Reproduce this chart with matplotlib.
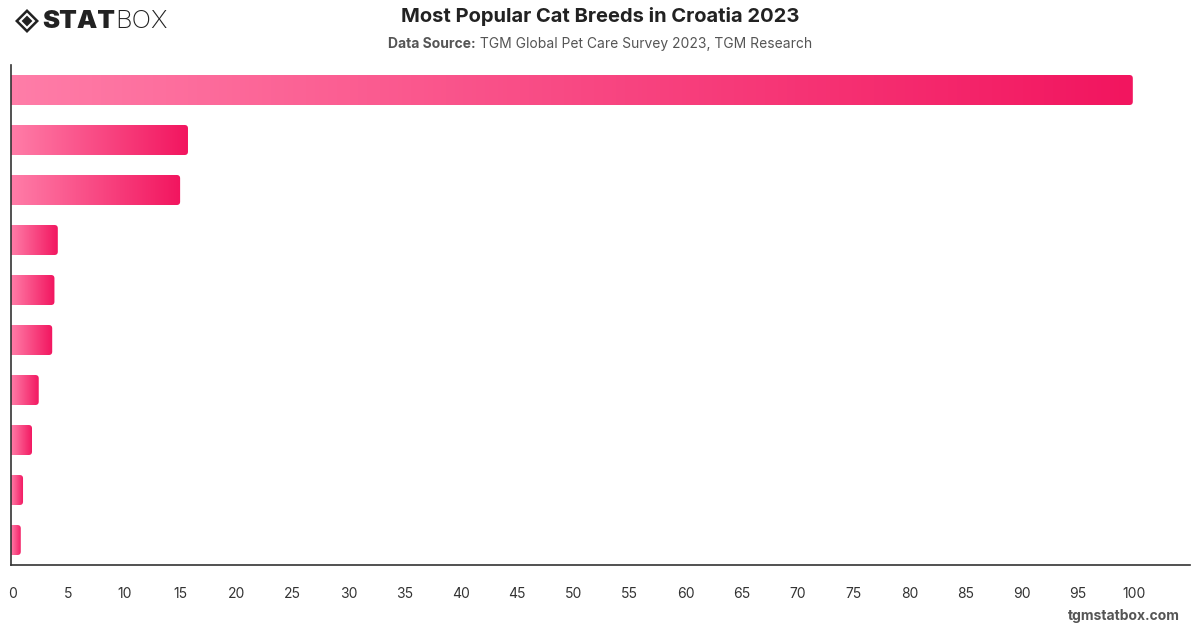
import numpy as np
import matplotlib
matplotlib.use("Agg")
from matplotlib import pyplot as plt
from matplotlib.patches import FancyBboxPatch, Polygon
from matplotlib.colors import LinearSegmentedColormap
from matplotlib.transforms import ScaledTranslation

plt.rcParams['font.family'] = ['Inter', 'DejaVu Sans']

# data (breed names are not shown on the chart)
breeds = ["Breed 1", "Breed 2", "Breed 3", "Breed 4", "Breed 5",
          "Breed 6", "Breed 7", "Breed 8", "Breed 9", "Breed 10"]
values = [100, 15.8, 15.1, 4.2, 3.9, 3.7, 2.5, 1.9, 1.1, 0.9]
xticks = list(range(0, 101, 5))

title = "Most Popular Cat Breeds in Croatia 2023"
source_bold = "Data Source:"
source_text = " TGM Global Pet Care Survey 2023, TGM Research"

fig = plt.figure(figsize=(12, 6.28), dpi=100)
ax = fig.add_axes([0.0089, 0.1003, 0.9828, 0.7962])

cmap = LinearSegmentedColormap.from_list("pinks", ["#FF7DA8", "#F2155F"])
grad = np.linspace(0, 1, 256).reshape(1, -1)

xmax = 105.1
h = 0.6
# px per data unit: x ~ 11.22, y ~ 50
aspect = 11.22 / 50
for i, v in enumerate(values):
    patch = FancyBboxPatch((-1, i - h / 2), v + 1, h,
                           boxstyle="round,pad=0,rounding_size=0.3",
                           mutation_aspect=aspect,
                           facecolor="none", edgecolor="none")
    ax.add_patch(patch)
    im = ax.imshow(grad, cmap=cmap, aspect="auto",
                   extent=[0, v, i + h / 2, i - h / 2],
                   interpolation="bicubic", zorder=2)
    im.set_clip_path(patch)

ax.set_xlim(0, xmax)
ax.set_ylim(len(values) - 0.5, -0.5)

ax.set_yticks([])
ax.set_xticks(xticks)
ax.set_xticklabels([str(t) for t in xticks], fontsize=10, color="#333333")
ax.tick_params(axis="x", length=0, pad=16)
shift = ScaledTranslation(1.5 / 100, 0, fig.dpi_scale_trans)
for lab in ax.get_xticklabels():
    lab.set_transform(lab.get_transform() + shift)
for s in ["top", "right"]:
    ax.spines[s].set_visible(False)
for s in ["left", "bottom"]:
    ax.spines[s].set_color("#333333")
    ax.spines[s].set_linewidth(1.2)

# titles
fig.text(0.5, 1 - 17 / 628, title, ha="center", va="center",
         fontsize=14.5, fontweight="bold", color="#222222")
t1 = fig.text(0.5, 1 - 44 / 628, source_bold, ha="right", va="center",
              fontsize=10, fontweight="bold", color="#555555")
fig.canvas.draw()
r = fig.canvas.get_renderer()
t2 = fig.text(0, 0, source_text, fontsize=10, color="#555555")
w1 = t1.get_window_extent(r).width
w2 = t2.get_window_extent(r).width
start = 600 - (w1 + w2) / 2
t1.set_position(((start + w1) / 1200, 1 - 44 / 628))
t2.set_position(((start + w1) / 1200, 1 - 44 / 628))
t2.set_va("center")

# logo
cx, cy = 27 / 1200, 1 - 21 / 628
dx, dy = 12 / 1200, 12 / 628
outer = Polygon([[cx - dx, cy], [cx, cy + dy], [cx + dx, cy], [cx, cy - dy]],
                closed=True, transform=fig.transFigure, facecolor="#222222",
                edgecolor="none")
mid = Polygon([[cx - dx * 0.7, cy], [cx, cy + dy * 0.7], [cx + dx * 0.7, cy], [cx, cy - dy * 0.7]],
              closed=True, transform=fig.transFigure, facecolor="white",
              edgecolor="none")
inner = Polygon([[cx - dx * 0.45, cy], [cx, cy + dy * 0.45], [cx + dx * 0.45, cy], [cx, cy - dy * 0.45]],
                closed=True, transform=fig.transFigure, facecolor="#222222",
                edgecolor="none")
for p in (outer, mid, inner):
    fig.add_artist(p)
ts = fig.text(42 / 1200, 1 - 21 / 628, "STAT", ha="left", va="center",
              fontsize=18.5, fontweight="black", color="#222222")
fig.canvas.draw()
wx = ts.get_window_extent(r).x1
fig.text(wx / 1200, 1 - 21 / 628, "BOX", ha="left", va="center",
         fontsize=18.5, fontweight="light", color="#222222")

# footer
fig.text(1180 / 1200, 1 - 616 / 628, "tgmstatbox.com", ha="right", va="center",
         fontsize=10, fontweight="bold", color="#555555")

fig.savefig("out.png", dpi=100)
